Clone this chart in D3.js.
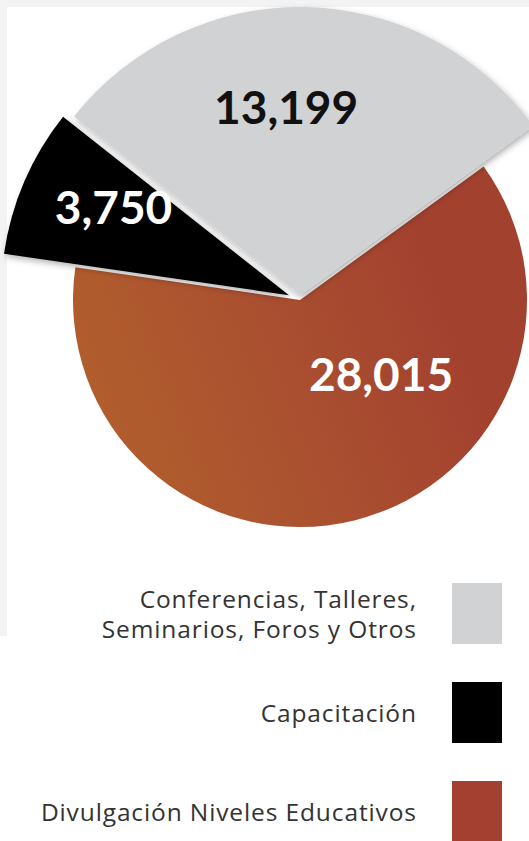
<!DOCTYPE html>
<html>
<head>
<meta charset="utf-8">
<script src="https://cdn.jsdelivr.net/npm/d3@7"></script>
<style>
	html, body { margin: 0; padding: 0; background: #ffffff; }
	svg { display: block; }
</style>
</head>
<body>
<div id="chart"></div>
<script>
(function() {
	"use strict";

	// data, in legend order
	var categories = ['Conferencias, Talleres, Seminarios, Foros y Otros', 'Capacitación', 'Divulgación Niveles Educativos'];
	var legendLines = [['Conferencias, Talleres,', 'Seminarios, Foros y Otros'], ['Capacitación'], ['Divulgación Niveles Educativos']];
	var values = [13199, 3750, 28015];
	var colors = ['#d1d2d4', '#000000', '#a3402f'];

	var WIDTH = 529;
	var HEIGHT = 841;
	var CX = 300;
	var CY = 300;
	var RADIUS = 227;
	var BIG_RADIUS = 288;
	var START_ANGLE = 54 * Math.PI / 180;
	var LEGEND_TEXT_WIDTH = 376;
	var LEGEND_RIGHT = 416;

	var outerRadius = [BIG_RADIUS, BIG_RADIUS, RADIUS];
	var explode = [5, 12, 0];
	var labelRadius = [193, 208, 110];
	var labelFrac = [0.55, 0.4, 0.65];
	var labelColor = ['#111111', '#ffffff', '#ffffff'];

	var svg = d3.select('#chart').append('svg')
		.attr('width', WIDTH)
		.attr('height', HEIGHT);

	var defs = svg.append('defs');
	// coordinates are relative to the pie centre (the slices live in a translated group)
	var grad = defs.append('linearGradient')
		.attr('id', 'rust')
		.attr('gradientUnits', 'userSpaceOnUse')
		.attr('x1', -RADIUS).attr('y1', 40)
		.attr('x2', 110).attr('y2', -90);
	grad.append('stop').attr('offset', 0).attr('stop-color', '#b15d2d');
	grad.append('stop').attr('offset', 0.5).attr('stop-color', '#aa5030');
	grad.append('stop').attr('offset', 1).attr('stop-color', '#a3412f');

	var shadow = defs.append('filter')
		.attr('id', 'shadow')
		.attr('x', '-20%').attr('y', '-20%')
		.attr('width', '140%').attr('height', '140%');
	shadow.append('feDropShadow')
		.attr('dx', 2).attr('dy', 3)
		.attr('stdDeviation', 3)
		.attr('flood-color', '#000')
		.attr('flood-opacity', 0.3);

	// light gray frame on top and left
	svg.append('rect').attr('x', 0).attr('y', 0).attr('width', WIDTH).attr('height', 7).attr('fill', '#f3f3f3');
	svg.append('rect').attr('x', 0).attr('y', 0).attr('width', 7).attr('height', 636).attr('fill', '#f3f3f3');

	var pie = d3.pie()
		.sort(null)
		.value(function (d) { return d; })
		.startAngle(START_ANGLE)
		.endAngle(START_ANGLE - 2 * Math.PI);

	var arcs = pie(values);

	var arc = d3.arc().innerRadius(0);

	function midAngle(d, frac) {
		return d.startAngle + frac * (d.endAngle - d.startAngle);
	}

	var pieGroup = svg.append('g')
		.attr('transform', 'translate(' + CX + ',' + CY + ')');

	// rust slice first, exploded slices on top
	var order = [2, 1, 0];
	pieGroup.selectAll('.slice')
		.data(order.map(function (i) { return { i: i, d: arcs[i] }; }))
		.enter()
		.append('path')
		.classed('slice', true)
		.attr('d', function (o) {
			return arc.outerRadius(outerRadius[o.i])(o.d);
		})
		.attr('fill', function (o) { return o.i === 2 ? 'url(#rust)' : colors[o.i]; })
		.attr('filter', function (o) { return o.i === 2 ? null : 'url(#shadow)'; })
		.attr('transform', function (o) {
			var a = midAngle(o.d, 0.5);
			return 'translate(' + (Math.sin(a) * explode[o.i]) + ',' + (-Math.cos(a) * explode[o.i]) + ')';
		});

	var fmt = d3.format(',');
	pieGroup.selectAll('.value-label')
		.data(arcs)
		.enter()
		.append('text')
		.classed('value-label', true)
		.attr('x', function (d, i) { return Math.sin(midAngle(d, labelFrac[i])) * labelRadius[i]; })
		.attr('y', function (d, i) { return -Math.cos(midAngle(d, labelFrac[i])) * labelRadius[i]; })
		.attr('dy', '0.36em')
		.attr('text-anchor', 'middle')
		.attr('font-family', 'Lato, "Open Sans", sans-serif')
		.attr('font-weight', 700)
		.attr('font-size', 46)
		.attr('fill', function (d, i) { return labelColor[i]; })
		.text(function (d) { return fmt(d.value); });

	// legend
	var legendY = d3.scaleBand()
		.domain(categories)
		.range([564, 861])
		.paddingInner(0);

	var legend = svg.selectAll('.legend-item')
		.data(categories)
		.enter()
		.append('g')
		.classed('legend-item', true)
		.attr('transform', function (c) { return 'translate(0,' + legendY(c) + ')'; });

	legend.append('rect')
		.attr('x', 452)
		.attr('y', 19)
		.attr('width', 50)
		.attr('height', 61)
		.attr('fill', function (c, i) { return colors[i]; });

	var legendTexts = [];
	legend.each(function (c, i) {
		var lines = legendLines[i];
		var text = d3.select(this).append('text')
			.attr('text-anchor', 'end')
			.attr('font-family', '"Open Sans", sans-serif')
			.attr('font-size', 24.5)
			.attr('fill', '#333333');
		var lineHeight = 30;
		var firstY = 49.5 + 9 - (lines.length - 1) * lineHeight / 2;
		lines.forEach(function (line, k) {
			var tspan = text.append('tspan')
				.attr('x', LEGEND_RIGHT)
				.attr('y', firstY + k * lineHeight)
				.text(line);
			legendTexts.push(tspan);
		});
	});

	// adjust the letter spacing so the longest line spans the same width as the original
	var longest = legendTexts.reduce(function (best, t) {
		return t.node().getComputedTextLength() > best.node().getComputedTextLength() ? t : best;
	});
	var spacing = (LEGEND_TEXT_WIDTH - longest.node().getComputedTextLength()) / longest.text().length;
	svg.selectAll('.legend-item text').attr('letter-spacing', spacing);
	// trailing spacing pushes end-anchored text left; compensate
	legendTexts.forEach(function (t) { t.attr('x', LEGEND_RIGHT + spacing); });
}());
</script>
</body>
</html>
